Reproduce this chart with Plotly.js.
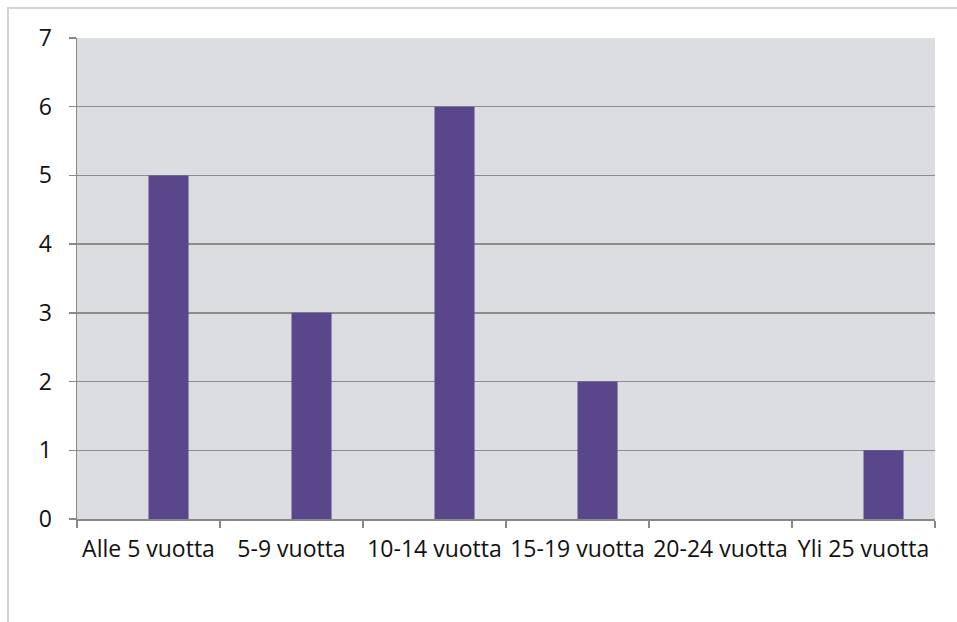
<!DOCTYPE html>
<html><head><meta charset="utf-8">
<script src="https://cdn.plot.ly/plotly-3.0.1.min.js"></script>
<style>
html,body{margin:0;padding:0;background:#fff;}
#wrap{position:relative;width:957px;height:622px;}
#frame{position:absolute;left:7px;top:7px;width:960px;height:640px;border-top:2px solid #d4d4d4;border-left:2px solid #d4d4d4;}
#chart{position:absolute;left:0;top:0;width:957px;height:622px;}
</style></head>
<body><div id="wrap"><div id="frame"></div><div id="chart"></div></div>
<script>
const categories = ["Alle 5 vuotta","5-9 vuotta","10-14 vuotta","15-19 vuotta","20-24 vuotta","Yli 25 vuotta"];
const values = [5,3,6,2,0,1];
const yTicks = [0,1,2,3,4,5,6,7];

Plotly.newPlot('chart',[{
  type:'bar', x:categories, y:values,
  offset:0, width:0.28,
  marker:{color:'#5a468b'},
  hoverinfo:'none'
}],{
  width:957,height:622,
  margin:{l:77,r:22,t:38,b:103},
  paper_bgcolor:'rgba(0,0,0,0)',
  plot_bgcolor:'#dcdde1',
  font:{family:'"Open Sans", "Liberation Sans", sans-serif',color:'#111',size:23},
  xaxis:{type:'category',tickson:'boundaries',ticks:'outside',ticklen:7,tickcolor:'#888',tickwidth:1.5,
         showline:true,linecolor:'#888',linewidth:1.5,showgrid:false,tickangle:0,
         tickfont:{size:23},ticklabelstandoff:9,fixedrange:true},
  yaxis:{range:[0,7],tickvals:yTicks,ticks:'outside',ticklen:7,tickcolor:'#888',tickwidth:1.5,
         showline:true,linecolor:'#888',linewidth:1.5,gridcolor:'#8c8c8c',gridwidth:1.5,zeroline:false,
         tickfont:{size:23},ticklabelstandoff:12,fixedrange:true},
  showlegend:false
},{staticPlot:true});
</script></body></html>
